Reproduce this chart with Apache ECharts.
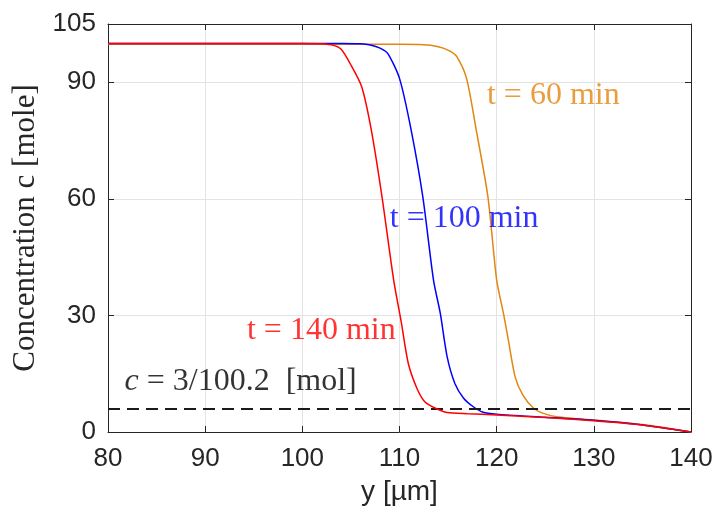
<!DOCTYPE html>
<html>
<head>
<meta charset="utf-8">
<script src="https://cdn.jsdelivr.net/npm/echarts@6/dist/echarts.min.js"></script>
<style>html,body{margin:0;padding:0;background:#fff;}#c{width:718px;height:518px;}</style>
</head>
<body>
<div id="c"></div>
<script>
// ---- data ----
const xTicks = [80, 90, 100, 110, 120, 130, 140];
const yTicks = [0, 30, 60, 90, 105];

const x140 = [80, 100, 102, 103.2, 104, 104.9, 106.1, 107.1, 108.2, 109.4, 110.2, 110.9, 111.8, 112.6, 113.7, 114.9, 117, 120, 125, 130, 135, 140];
const c140 = [100, 100, 99.9, 99.5, 98.5, 94.9, 88.9, 77.7, 60.5, 39.1, 28, 17.7, 11.2, 7.8, 6.1, 5.0, 4.7, 4.4, 3.7, 2.9, 1.8, 0];

const x100 = [80, 104, 106, 107, 108, 108.8, 110.0, 111.2, 112.4, 113.5, 114.2, 114.9, 115.7, 116.6, 117.6, 118.6, 120, 125, 130, 135, 140];
const c100 = [100, 100, 99.9, 99.6, 98.8, 97.4, 91, 77.7, 60.5, 39.1, 30.5, 19.4, 12.5, 8.7, 6.5, 5.1, 4.6, 3.8, 3.0, 1.8, 0];

const x60 = [80, 110, 112, 113.5, 114.5, 115.2, 115.9, 116.9, 117.9, 119.1, 120.0, 120.7, 121.2, 121.9, 122.7, 123.8, 124.8, 126.2, 128, 130, 135, 140];
const c60 = [99.8, 99.8, 99.7, 99.4, 98.8, 98, 96.6, 91, 77.7, 60.5, 39.1, 30.5, 23.7, 14.2, 9.5, 6.1, 4.8, 3.9, 3.5, 3.1, 1.9, 0];

const threshold = 6;

// label anchors (data coordinates)
const labelText = ['t = 60 min', 't = 100 min', 't = 140 min'];
const labelX = [119.0, 109.0, 94.3];
const labelY = [86.7, 55, 26.2];
const cLabelX = 81.7;
const cLabelY = 12.9;

// ---- chart ----
const zip = (xs, ys) => xs.map((x, i) => [x, ys[i]]);
const colors = { t60: '#e3850f', t100: '#0000ff', t140: '#ff0000' };
const frame = '#262626';
const serif = 'Liberation Serif';
const sans = 'Liberation Sans';

const chart = echarts.init(document.getElementById('c'), null, { renderer: 'canvas' });

const axisCommon = {
  axisLine: { show: true, onZero: false, lineStyle: { color: frame, width: 1 } },
  axisTick: { show: true, inside: true, length: 6, lineStyle: { color: frame } },
};

function labelSeries(txt, x, y, color) {
  return {
    type: 'scatter', xAxisIndex: 0, yAxisIndex: 0,
    data: [[x, y]], symbolSize: 0, silent: true, z: 10,
    label: { show: true, position: 'right', distance: 0, formatter: txt,
             color: color, fontFamily: serif, fontSize: 32 }
  };
}

function curve(name, xs, ys, color, z) {
  return {
    type: 'line', name: name, data: zip(xs, ys), showSymbol: false,
    smooth: 0.25,
    lineStyle: { color: color, width: 1.5 }, itemStyle: { color: color }, z: z
  };
}

const red = curve('t = 140 min', x140, c140, colors.t140, 5);
red.markLine = {
  silent: true, symbol: 'none', animation: false,
  label: { show: false },
  lineStyle: { color: '#1a1a1a', width: 1.8, type: [12, 7] },
  data: [[{ coord: [xTicks[0], threshold] }, { coord: [xTicks[xTicks.length - 1], threshold] }]]
};

chart.setOption({
  animation: false,
  backgroundColor: '#ffffff',
  grid: { left: 108, right: 27, top: 24, bottom: 86 },
  xAxis: [
    Object.assign({
      type: 'value', min: xTicks[0], max: xTicks[xTicks.length - 1], interval: 10,
      position: 'bottom',
      axisLabel: { color: frame, fontFamily: sans, fontSize: 26, margin: 14 },
      splitLine: { show: true, lineStyle: { color: '#e3e3e3', width: 1 } },
      name: 'y [µm]', nameLocation: 'middle', nameGap: 46,
      nameTextStyle: { color: frame, fontFamily: sans, fontSize: 28 }
    }, axisCommon),
    Object.assign({
      type: 'value', min: xTicks[0], max: xTicks[xTicks.length - 1], interval: 10,
      position: 'top', axisLabel: { show: false }, splitLine: { show: false }
    }, axisCommon)
  ],
  yAxis: [
    Object.assign({
      type: 'value', min: yTicks[0], max: yTicks[yTicks.length - 1], interval: 30,
      position: 'left',
      axisLabel: { color: frame, fontFamily: sans, fontSize: 26, margin: 12 },
      splitLine: { show: true, lineStyle: { color: '#e3e3e3', width: 1 } },
      name: 'Concentration c [mole]', nameLocation: 'middle', nameGap: 66,
      nameTextStyle: { color: frame, fontFamily: serif, fontSize: 31 }
    }, axisCommon),
    Object.assign({
      type: 'value', min: yTicks[0], max: yTicks[yTicks.length - 1], interval: 30,
      position: 'right', axisLabel: { show: false }, splitLine: { show: false }
    }, axisCommon)
  ],
  series: [
    curve('t = 60 min', x60, c60, colors.t60, 3),
    curve('t = 100 min', x100, c100, colors.t100, 4),
    red,
    labelSeries(labelText[0], labelX[0], labelY[0], colors.t60),
    labelSeries(labelText[1], labelX[1], labelY[1], colors.t100),
    labelSeries(labelText[2], labelX[2], labelY[2], colors.t140),
    {
      type: 'scatter', data: [[cLabelX, cLabelY]], symbolSize: 0, silent: true, z: 10,
      label: {
        show: true, position: 'right', distance: 0,
        formatter: '{i|c}{n| = 3/100.2  [mol]}',
        rich: {
          i: { fontFamily: serif, fontStyle: 'italic', fontSize: 32, color: '#000' },
          n: { fontFamily: serif, fontSize: 32, color: '#000' }
        }
      }
    }
  ]
});
</script>
</body>
</html>
